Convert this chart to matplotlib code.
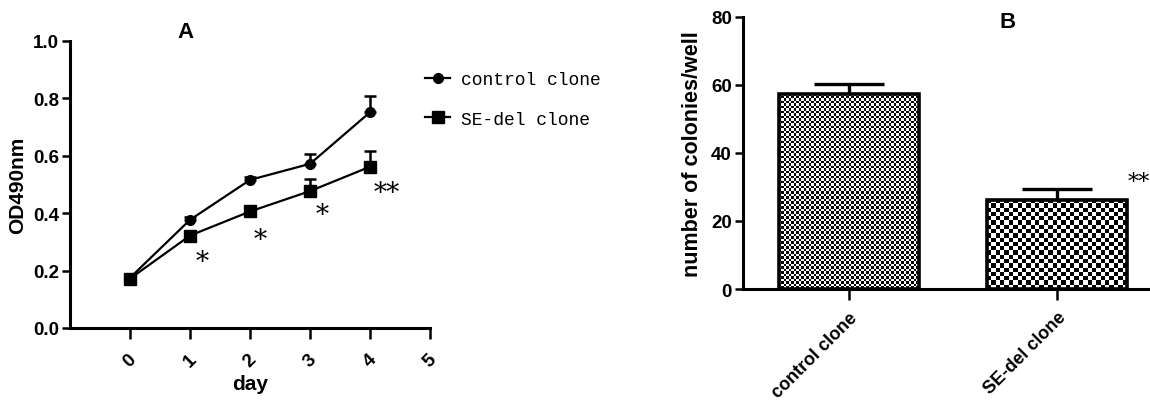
import numpy as np
import matplotlib as mpl
mpl.use("Agg")
import matplotlib.pyplot as plt
from matplotlib.lines import Line2D

# panel A: growth curve
days = [0, 1, 2, 3, 4]
ctrl_od = [0.175, 0.377, 0.516, 0.572, 0.752]
ctrl_err = [0.01, 0.01, 0.01, 0.034, 0.058]
sedel_od = [0.172, 0.322, 0.406, 0.477, 0.562]
sedel_err = [0.015, 0.012, 0.02, 0.043, 0.056]
star_x = [1.2, 2.17, 3.2, 4.28]
star_y = [0.233, 0.31, 0.394, 0.473]
star_txt = ["*", "*", "*", "**"]

# panel B: colony counts
groups = ["control clone", "SE-del clone"]
colonies = [57.4, 26.2]
colonies_err = [2.8, 3.2]
cell_px = [2.5, 4.3]   # checker cell size per bar

plt.rcParams['font.family'] = ['Liberation Sans', 'DejaVu Sans']

fig = plt.figure(figsize=(11.5, 4.06), dpi=100)

# ---------------- A ----------------
ax = fig.add_axes([0.0609, 0.1897, 0.3131, 0.7069])
ax.errorbar(days, ctrl_od, yerr=[np.zeros(5), ctrl_err], color='black', lw=1.6,
            marker='o', ms=7, capsize=4, capthick=1.8, elinewidth=1.8, zorder=3)
ax.errorbar(days, sedel_od, yerr=[np.zeros(5), sedel_err], color='black', lw=1.6,
            marker='s', ms=8, capsize=4, capthick=1.8, elinewidth=1.8, zorder=3)
for x, y, t in zip(star_x, star_y, star_txt):
    ax.text(x, y, t, fontsize=19, ha='center', va='center', family='DejaVu Serif')

ax.set_xlim(-1, 5)
ax.set_ylim(0, 1.0)
ax.set_xticks([0, 1, 2, 3, 4, 5])
ax.set_yticks([0.0, 0.2, 0.4, 0.6, 0.8, 1.0])
ax.set_yticklabels(['0.0', '0.2', '0.4', '0.6', '0.8', '1.0'])
ax.tick_params(axis='y', length=6, width=1.8, labelsize=13.5, pad=2)
ax.tick_params(axis='x', length=8, width=1.8, labelsize=13.5, labelrotation=45, pad=8)
for lab in ax.get_xticklabels() + ax.get_yticklabels():
    lab.set_fontweight('bold')
ax.set_ylabel('OD490nm', fontsize=15, fontweight='bold', labelpad=4)
ax.set_xlabel('day', fontsize=15, fontweight='bold', labelpad=3)
for s in ['top', 'right']:
    ax.spines[s].set_visible(False)
for s in ['left', 'bottom']:
    ax.spines[s].set_linewidth(2.2)
ax.set_title('A', fontsize=16, fontweight='bold', x=0.32, y=0.985)

handles = [Line2D([], [], color='black', lw=1.6, marker='o', ms=7),
           Line2D([], [], color='black', lw=1.6, marker='s', ms=8)]
ax.legend(handles, ['control clone', 'SE-del clone'], loc='upper left',
          bbox_to_anchor=(425 / 1150, 1 - 72 / 406),
          bbox_transform=fig.transFigure, frameon=False,
          prop={'family': 'Liberation Mono', 'size': 13},
          handlelength=1.4, handletextpad=0.6, labelspacing=1.25,
          borderaxespad=0, borderpad=0)

# ---------------- B ----------------
bx = fig.add_axes([0.646, 0.2857, 0.36, 0.671])
xpos = np.arange(len(groups))
bars = bx.bar(xpos, colonies, width=0.67, facecolor='none', edgecolor='black',
              linewidth=2.6, zorder=3)
bx.errorbar(xpos, colonies, yerr=[np.zeros(2), colonies_err], fmt='none',
            ecolor='black', elinewidth=2.4, capsize=25, capthick=2.4, zorder=2)
bx.set_xlim(-0.507, 1.478)
bx.set_ylim(0, 80)

# fill bars with checkerboard images clipped to the bar
fig.canvas.draw()
for b, cp in zip(bars, cell_px):
    bb = b.get_window_extent()
    nx = max(1, int(round(bb.width / cp)))
    ny = max(1, int(round(bb.height / cp)))
    ii, jj = np.indices((ny, nx))
    board = ((ii + jj) % 2).astype(float)
    im = bx.imshow(board, cmap='gray', interpolation='nearest', aspect='auto',
                   extent=(b.get_x(), b.get_x() + b.get_width(), 0, b.get_height()),
                   zorder=2.5)
    im.set_clip_path(b)
bx.set_xlim(-0.507, 1.478)
bx.set_ylim(0, 80)

bx.text(1.39, 31.5, '**', fontsize=16, ha='center', va='center', family='DejaVu Serif')
bx.set_xticks(xpos)
bx.set_xticklabels(groups, rotation=45, ha='right', va='top', rotation_mode='anchor')
bx.set_yticks([0, 20, 40, 60, 80])
bx.tick_params(axis='y', length=6, width=1.8, labelsize=13.5, pad=2)
bx.tick_params(axis='x', length=8, width=1.8, labelsize=13, pad=6)
for lab in bx.get_xticklabels() + bx.get_yticklabels():
    lab.set_fontweight('bold')
bx.set_ylabel('number of colonies/well', fontsize=15.5, fontweight='bold', labelpad=6)
for s in ['top', 'right']:
    bx.spines[s].set_visible(False)
for s in ['left', 'bottom']:
    bx.spines[s].set_linewidth(2.2)
bx.set_title('B', fontsize=16, fontweight='bold', x=0.64, y=0.93)

fig.savefig('out.png', dpi=100)
